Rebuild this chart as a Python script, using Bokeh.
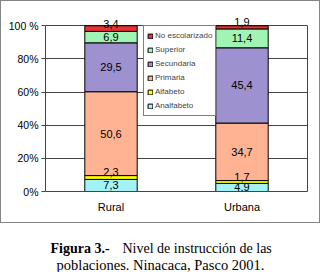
import numpy as np
from bokeh.plotting import figure
from bokeh.layouts import column
from bokeh.core.properties import value
from bokeh.models import (ColumnDataSource, FixedTicker, Range1d, FactorRange, Legend,
                          LegendItem, LabelSet, Label, LinearAxis)
from bokeh.embed import file_html
from bokeh.resources import INLINE

categories = ["Rural", "Urbana"]
levels = ["Analfabeto", "Alfabeto", "Primaria", "Secundaria", "Superior", "No escolarizado"]
rural = [7.3, 2.3, 50.6, 29.5, 6.9, 3.4]
urbana = [4.9, 1.7, 34.7, 45.4, 11.4, 1.9]
y_ticks = [0, 20, 40, 60, 80, 100]
y_tick_labels = ["0%", "20%", "40%", "60%", "80%", "100 %"]
caption_bold = "Figura 3.-"
caption_line1 = "Nivel de instrucción de las"
caption_line2 = "poblaciones. Ninacaca, Pasco 2001."

colors = ["#A2F2F6", "#FFFF00", "#FFB393", "#9E91CF", "#A0F4B4", "#E5332F"]
FONT = "Liberation Sans"
SERIF = "Liberation Serif"

data = {"cat": categories}
for i, lv in enumerate(levels):
    data[lv] = [rural[i], urbana[i]]
src = ColumnDataSource(data)

p = figure(x_range=FactorRange(factors=categories), y_range=Range1d(0, 108),
           width=320, height=223, output_backend="svg", toolbar_location=None,
           min_border_left=45, min_border_right=13, min_border_top=12, min_border_bottom=32,
           background_fill_color="white", border_fill_alpha=0, frame_align=False,
           styles={"box-shadow": "inset 0 0 0 1px #858585", "background-color": "white"})

rs = p.vbar_stack(levels, x="cat", width=0.4, source=src, color=colors,
                  line_color="black", line_width=1)

# value labels
lx, ly, lt, lo = [], [], [], []
for cat, vals in zip(categories, [rural, urbana]):
    cum = np.cumsum([0] + vals)
    for j, v in enumerate(vals):
        lx.append(cat)
        ly.append((cum[j] + cum[j + 1]) / 2)
        lt.append(f"{v:.1f}".replace(".", ","))
        lo.append(5 if v < 4 else 0)
lsrc = ColumnDataSource(dict(x=lx, y=ly, t=lt, o=lo))
p.add_layout(LabelSet(x="x", y="y", text="t", y_offset="o", source=lsrc,
                      text_align="center", text_baseline="middle",
                      text_font=value(FONT), text_font_size=value("11px"),
                      text_color=value("black")))

# legend
items = [LegendItem(label=levels[i], renderers=[rs[i]]) for i in reversed(range(len(levels)))]
legend = Legend(items=items, location=(98, 75), border_line_color="black",
                border_line_width=1, background_fill_color="white", background_fill_alpha=1,
                label_text_font=FONT, label_text_font_size="8px", glyph_width=6, glyph_height=6,
                label_height=13, label_standoff=2, spacing=1, padding=3, margin=0)
p.add_layout(legend)

# axes
p.yaxis.bounds = (0, 100)
p.yaxis.ticker = FixedTicker(ticks=y_ticks)
p.yaxis.major_label_overrides = {t: l for t, l in zip(y_ticks, y_tick_labels)}
p.yaxis.major_label_text_font = FONT
p.yaxis.major_label_text_font_size = "10.5px"
p.yaxis.major_label_text_color = "black"
p.yaxis.major_tick_in = 0
p.yaxis.major_tick_out = 4
p.yaxis.minor_tick_line_color = None
p.yaxis.major_label_standoff = 3
p.yaxis.axis_line_color = "#444444"
p.yaxis.major_tick_line_color = "#444444"

right_axis = LinearAxis(bounds=(0, 100), ticker=FixedTicker(ticks=[]),
                        major_tick_line_color=None, minor_tick_line_color=None,
                        major_label_standoff=0, axis_line_color="#444444")
p.add_layout(right_axis, "right")

p.xaxis.major_label_text_font = FONT
p.xaxis.major_label_text_font_size = "11px"
p.xaxis.major_label_text_color = "black"
p.xaxis.major_tick_line_color = None
p.xaxis.major_label_standoff = 3
p.xaxis.axis_line_color = "#444444"

p.xgrid.grid_line_color = None
p.ygrid.ticker = FixedTicker(ticks=y_ticks)
p.ygrid.grid_line_color = "#444444"
p.outline_line_color = None

# caption figure
c = figure(x_range=Range1d(0, 320), y_range=Range1d(49, 0), width=320, height=49,
           output_backend="svg", toolbar_location=None, min_border=0,
           min_border_left=0, min_border_right=0, min_border_top=0, min_border_bottom=0,
           x_axis_type=None, y_axis_type=None, outline_line_color=None, frame_align=False,
           background_fill_color="white", border_fill_color="white")
c.xgrid.grid_line_color = None
c.ygrid.grid_line_color = None
c.add_layout(Label(x=50, y=25, text=caption_bold, text_font=SERIF, text_font_style="bold",
                   text_font_size="14px", text_baseline="alphabetic", text_color="black"))
c.add_layout(Label(x=122, y=25, text=caption_line1, text_font=SERIF,
                   text_font_size="14px", text_baseline="alphabetic", text_color="black"))
c.add_layout(Label(x=160, y=41, text=caption_line2, text_font=SERIF, text_font_size="14.5px",
                   text_align="center", text_baseline="alphabetic", text_color="black"))

layout = column(p, c, spacing=0)
open("out.html", "w").write(file_html(layout, INLINE))
